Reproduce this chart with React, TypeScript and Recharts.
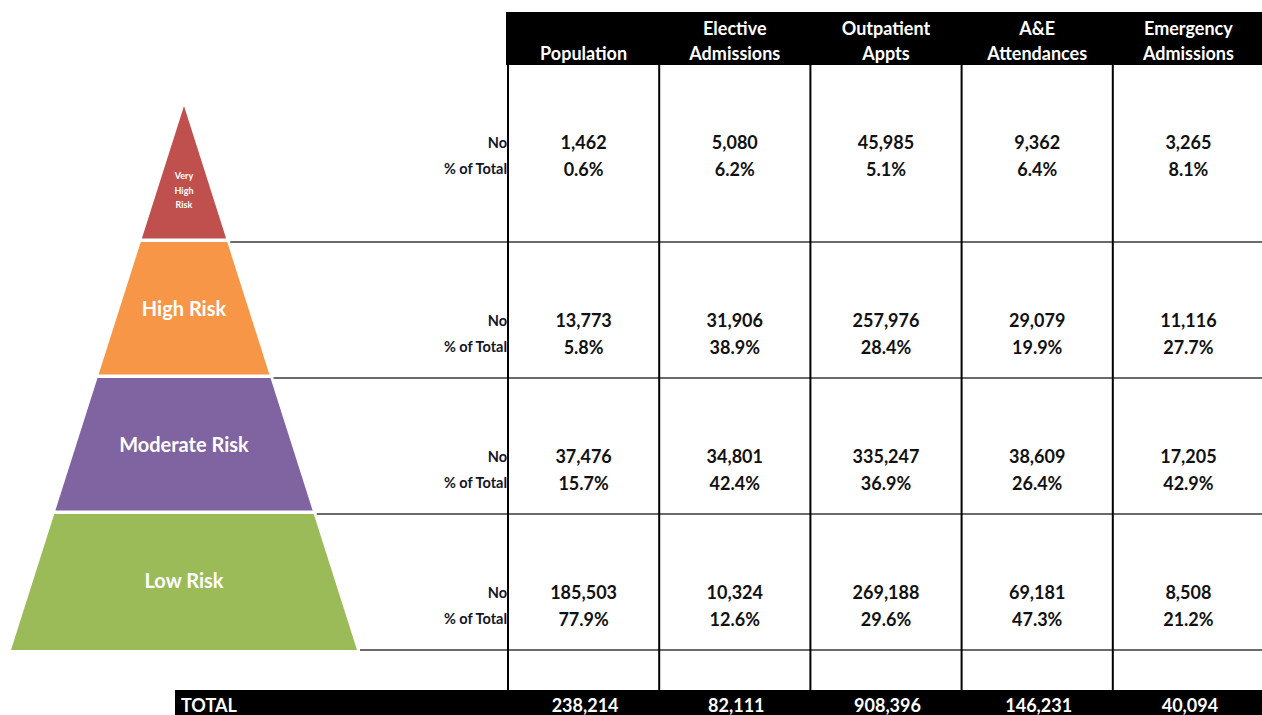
import React from 'react';
import {
  FunnelChart, Funnel,
  ScatterChart, Scatter, XAxis, YAxis, ReferenceLine, ReferenceArea,
} from 'recharts';

// risk tiers, top of the pyramid first
const tierNames = ['Very High Risk', 'High Risk', 'Moderate Risk', 'Low Risk'];
const tierLevels = [1, 2, 3, 4];
const tierColors = ['#C0504D', '#F79646', '#8064A2', '#9BBB59'];

// table columns
const metricHeaders = [
  ['', 'Population'],
  ['Elective', 'Admissions'],
  ['Outpatient', 'Appts'],
  ['A&E', 'Attendances'],
  ['Emergency', 'Admissions'],
];
const rowLabels = ['No', '% of Total'];

// one row per tier, one value per column
const counts = [
  [1462, 5080, 45985, 9362, 3265],
  [13773, 31906, 257976, 29079, 11116],
  [37476, 34801, 335247, 38609, 17205],
  [185503, 10324, 269188, 69181, 8508],
];
const shares = [
  [0.6, 6.2, 5.1, 6.4, 8.1],
  [5.8, 38.9, 28.4, 19.9, 27.7],
  [15.7, 42.4, 36.9, 26.4, 42.9],
  [77.9, 12.6, 29.6, 47.3, 21.2],
];
const totals = [238214, 82111, 908396, 146231, 40094];

const W = 1262;
const H = 715;
const FONT = 'Lato, "Noto Sans", sans-serif';
const TIER_TOP = 106;
const TIER_H = 136;
const TABLE_LEFT = 508;
const COL_W = 151.2;
const toY = (px: number) => (px - TIER_TOP) / TIER_H;
const toX = (px: number) => (px - TABLE_LEFT) / COL_W;
const fmt = (v: number) => v.toLocaleString('en-US');

// reversed funnel: widest tier first, it is drawn at the bottom
const pyramidData = tierNames
  .map((name, i) => ({ name, level: tierLevels[i], idx: i }))
  .reverse();

const cellData = counts.flatMap((row, t) =>
  row.map((no, m) => ({ x: m + 0.5, y: t + 0.5, tier: t, no, pct: shares[t][m] }))
);

const whiteLabel = (value: string, position: any) => ({
  value, position, offset: 6, fill: '#fff', fontSize: 18, fontWeight: 700, fontFamily: FONT,
});

const TierShape = (props: any) => {
  const { x, y, upperWidth, lowerWidth, height } = props;
  const idx = props.payload?.idx ?? props.idx;
  const gap = idx === tierNames.length - 1 ? 0 : 3.5;
  const cx = x + upperWidth / 2;
  const yb = y + height - gap;
  const bw = lowerWidth - ((lowerWidth - upperWidth) * gap) / height;
  const d = `M${cx - upperWidth / 2},${y} L${cx + upperWidth / 2},${y} L${cx + bw / 2},${yb} L${cx - bw / 2},${yb} Z`;
  const lineY = y + height;
  let label;
  if (idx === 0) {
    const lc = y + height * 0.62;
    label = ['Very', 'High', 'Risk'].map((w, i) => (
      <text key={w} x={cx} y={lc + (i - 1) * 14.5} textAnchor="middle" dominantBaseline="central"
        fill="#fff" fontFamily={FONT} fontWeight={700} fontSize={9}>{w}</text>
    ));
  } else {
    label = (
      <text x={cx} y={y + height / 2 - 2} textAnchor="middle" dominantBaseline="central"
        fill="#fff" fontFamily={FONT} fontWeight={700} fontSize={20}>{tierNames[idx]}</text>
    );
  }
  return (
    <g>
      <path d={d} fill={tierColors[idx]} />
      <line x1={cx + lowerWidth / 2 + 3} y1={lineY} x2={W + 10} y2={lineY} stroke="#3a3a3a" strokeWidth={1.6} />
      {label}
    </g>
  );
};

const CellText = (props: any) => {
  const { cx, cy, payload } = props;
  const off = payload.tier === 0 ? -32 : 10;
  return (
    <g fontFamily={FONT} fontWeight={700} fontSize={18} fill="#111" textAnchor="middle">
      <text x={cx} y={cy + off} dominantBaseline="central">{fmt(payload.no)}</text>
      <text x={cx} y={cy + off + 26.5} dominantBaseline="central">{payload.pct.toFixed(1)}%</text>
    </g>
  );
};

const HeaderTick = (props: any) => {
  const { x, y, payload } = props;
  const lines = metricHeaders[Math.floor(payload.value)];
  return (
    <g fontFamily={FONT} fontWeight={700} fontSize={18} fill="#fff" textAnchor="middle">
      <text x={x} y={y - 78} dominantBaseline="central">{lines[0]}</text>
      <text x={x} y={y - 53} dominantBaseline="central">{lines[1]}</text>
    </g>
  );
};

const RowTick = (props: any) => {
  const { x, y, payload } = props;
  const off = Math.floor(payload.value) === 0 ? -32 : 10;
  return (
    <g fontFamily={FONT} fontWeight={700} fontSize={14.5} fill="#141428" textAnchor="end">
      <text x={x - 1} y={y + off} dominantBaseline="central">{rowLabels[0]}</text>
      <text x={x - 1} y={y + off + 26.5} dominantBaseline="central">{rowLabels[1]}</text>
    </g>
  );
};

export default function App() {
  const xAxisH = 40;
  const yAxisW = 90;
  return (
    <div style={{ position: 'absolute', left: 0, top: 0, width: W, height: H, overflow: 'hidden', background: '#fff' }}>
      <div style={{ position: 'absolute', left: 0, top: 0 }}>
        <FunnelChart width={W} height={H} margin={{ top: TIER_TOP, bottom: H - 650, left: 11, right: W - 357 }}>
          <Funnel
            data={pyramidData}
            dataKey="level"
            nameKey="name"
            reversed
            lastShapeType="triangle"
            shape={TierShape}
            isAnimationActive={false}
          />
        </FunnelChart>
      </div>
      <div style={{ position: 'absolute', left: 0, top: 0 }}>
        <ScatterChart width={W + 2} height={H}
          margin={{ top: TIER_TOP - xAxisH, bottom: H - 650, left: TABLE_LEFT - yAxisW, right: 0 }}>
          <XAxis type="number" dataKey="x" domain={[0, 5]} allowDataOverflow orientation="top" height={xAxisH}
            ticks={[0.5, 1.5, 2.5, 3.5, 4.5]} interval={0} axisLine={false} tickLine={false}
            tickSize={0} tickMargin={0} tick={<HeaderTick />} />
          <YAxis type="number" dataKey="y" domain={[0, 4]} allowDataOverflow reversed width={yAxisW}
            ticks={[0.5, 1.5, 2.5, 3.5]} interval={0} axisLine={false} tickLine={false}
            tickSize={0} tickMargin={0} tick={<RowTick />} />
          <ReferenceArea x1={toX(506)} x2={5.2} y1={toY(12)} y2={toY(65)} fill="#000" fillOpacity={1}
            stroke="none" ifOverflow="visible" />
          <ReferenceArea x1={toX(175)} x2={0} y1={toY(690)} y2={toY(722)} fill="#000" fillOpacity={1}
            stroke="none" ifOverflow="visible" label={whiteLabel('TOTAL', 'insideLeft')} />
          {totals.map((v, m) => (
            <ReferenceArea key={m} x1={m} x2={m + 1.02} y1={toY(690)} y2={toY(722)} fill="#000" fillOpacity={1}
              stroke="none" ifOverflow="visible" label={whiteLabel(fmt(v), 'center')} />
          ))}
          {[0, 1, 2, 3, 4].map((k) => (
            <ReferenceLine key={k} segment={[{ x: k, y: toY(12) }, { x: k, y: toY(690) }]}
              stroke="#000" strokeWidth={2} ifOverflow="visible" />
          ))}
          <Scatter data={cellData} shape={CellText} isAnimationActive={false} />
        </ScatterChart>
      </div>
    </div>
  );
}
